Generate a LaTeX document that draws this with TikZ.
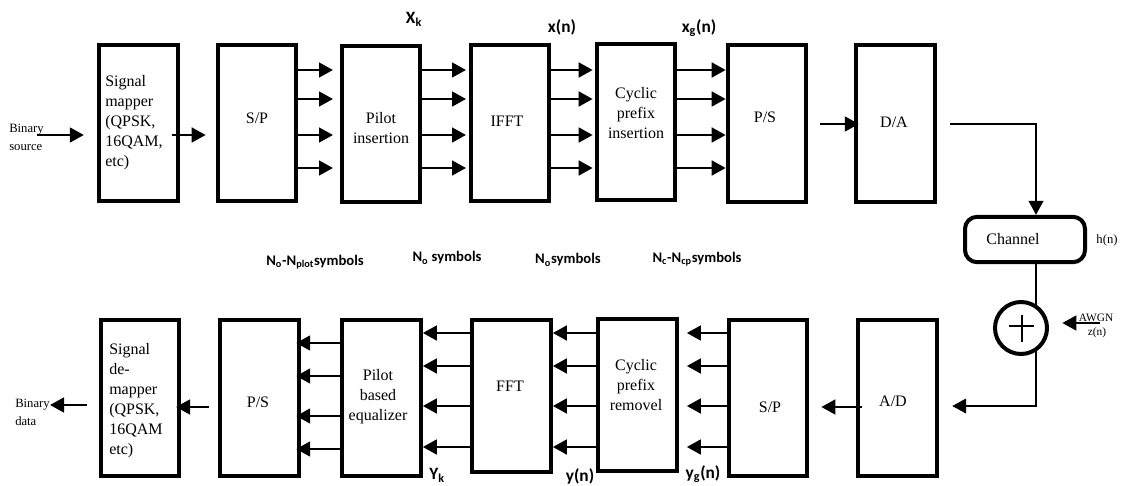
\documentclass[tikz,border=0pt]{standalone}
\usepackage{fontspec}
\setmainfont{Liberation Serif}
\newfontfamily\lblfont{Carlito}
\usetikzlibrary{arrows.meta}
\begin{document}
\begin{tikzpicture}[x=0.75pt,y=-0.75pt,
  blk/.style={draw,line width=3pt,minimum width=59pt,minimum height=117pt,inner sep=0pt},
  btxt/.style={font=\fontsize{12}{15}\selectfont,align=center,inner sep=0pt},
  ltxt/.style={font=\fontsize{12}{15}\selectfont,align=left,anchor=west,inner sep=0pt},
  arr/.style={line width=2pt,-{Triangle[length=10.5pt,width=11pt]}},
  arrthin/.style={line width=1.5pt,-{Triangle[length=10.5pt,width=11pt]}},
  thinline/.style={line width=1.5pt},
  lbl/.style={font=\lblfont\fontsize{11}{13}\selectfont\bfseries,inner sep=0pt},
  sig/.style={font=\lblfont\fontsize{13}{15}\selectfont\bfseries,inner sep=0pt},
  note/.style={font=\fontsize{9.5}{13.5}\selectfont,align=left,inner sep=0pt},
  tiny/.style={font=\fontsize{8.5}{10}\selectfont,inner sep=0pt}]
\useasboundingbox (0,0) rectangle (1123,485);

% ---- top row boxes
\node[blk] (sm) at (138.5,123) {};
\node[blk] (spa) at (257,123) {};
\node[blk] (pi) at (381,124) {};
\node[blk] (ifft) at (510,123) {};
\node[blk] (cpi) at (636,122) {};
\node[blk] (psa) at (767,123.5) {};
\node[blk] (da) at (895.5,123.5) {};

\node[ltxt] (smT) at (105,123) {Signal\\mapper\\(QPSK,\\16QAM,\\etc)};
\node[btxt] (spaT) at (257,118) {S/P};
\node[btxt] (piT) at (381,128) {Pilot\\insertion};
\node[btxt] (ifftT) at (507,121) {IFFT};
\node[btxt] (cpiT) at (636,113) {Cyclic\\prefix\\insertion};
\node[btxt] (psaT) at (765,117) {P/S};
\node[btxt] (daT) at (894,122) {D/A};

% ---- bottom row boxes
\node[blk] (sdm) at (140,397.5) {};
\node[blk] (psb) at (259.5,398) {};
\node[blk] (pbe) at (381.5,398) {};
\node[blk,minimum height=114pt] (fft) at (511.5,396) {};
\node[blk,minimum height=114pt] (cpr) at (637.5,395) {};
\node[blk] (spb) at (768,398) {};
\node[blk] (ad) at (897.5,398) {};

\node[ltxt] (sdmT) at (109,401) {Signal\\de-\\mapper\\(QPSK,\\16QAM\\etc)};
\node[btxt] (psbT) at (258,402) {P/S};
\node[btxt] (pbeT) at (378,397) {Pilot\\based\\equalizer};
\node[btxt] (fftT) at (510,386) {FFT};
\node[btxt] (cprT) at (636,385) {Cyclic\\prefix\\removel};
\node[btxt] (spbT) at (770,407) {S/P};
\node[btxt] (adT) at (893,401) {A/D};

% ---- input / output
\node[note,anchor=west] (bsT) at (9,137) {Binary\\source};
\node[note,anchor=west] (bdT) at (15,412) {Binary\\data};
\coordinate (bs) at (37,135);
\coordinate (bd) at (50,405);
\draw[arr,shorten >=10pt] (bs) -- (sm.west |- bs);
\draw[arr,shorten <=-6pt,shorten >=7.5pt] (sm.east |- bs) -- (spa.west |- bs);
\draw[arr,shorten <=9pt] (sdm.west |- bd) -- (bd);

% ---- top parallel arrows
\foreach \y in {70,99,135,168} {
  \draw[arr,shorten >=5pt] (spa.east |- 0,\y) -- (pi.west |- 0,\y);
  \draw[arr,shorten >=2pt] (pi.east |- 0,\y) -- (ifft.west |- 0,\y);
  \draw[arr,shorten >=1.5pt] (ifft.east |- 0,\y) -- (cpi.west |- 0,\y);
  \draw[arr] (cpi.east |- 0,\y) -- (psa.west |- 0,\y);
}
\draw[arr,shorten <=9pt,shorten >=-3.5pt] (psa.east |- 0,124) -- (da.west |- 0,124);

% ---- bottom parallel arrows
\foreach \y in {343,376,416,449} {
  \draw[arr,shorten >=-3.5pt] (pbe.west |- 0,\y) -- (psb.east |- 0,\y);
}
\foreach \y in {333,366,406,447} {
  \draw[arr] (fft.west |- 0,\y) -- (pbe.east |- 0,\y);
  \draw[arr] (cpr.west |- 0,\y) -- (fft.east |- 0,\y);
  \draw[arr,shorten >=6pt] (spb.west |- 0,\y) -- (cpr.east |- 0,\y);
}
\draw[arr,shorten <=-4pt,shorten >=9pt] (ad.west |- 0,407) -- (spb.east |- 0,407);
\draw[arr,shorten <=7pt,shorten >=-4pt] (psb.west |- 0,407) -- (sdm.east |- 0,407);

% ---- channel and noise
\node[draw,line width=3pt,rounded corners=9pt,minimum width=90pt,minimum height=34pt] (ch) at (1025,239.5) {};
\node[btxt] (chT) at (1013,239) {Channel};
\node[note] (hn) at (1107,240) {h(n)};
\node[circle,draw,line width=3pt,minimum size=39pt,inner sep=0pt] (sum) at (1021,328) {};
\draw[line width=1.5pt] (1009,326) -- (1034,326) (1022,315) -- (1022,342);
\coordinate (tap) at (1036,0);
\coordinate (sumtop) at (1036,306);
\coordinate (sumbot) at (1036,350);
\draw[arrthin] ([xshift=10pt]da.east) -| (ch.north -| tap);
\draw[thinline] (ch.south -| tap) -- (sumtop);
\draw[arrthin] (sumbot) |- ([xshift=10pt,yshift=-6pt]ad.east);
\coordinate (aw) at (1100,323);
\coordinate (awend) at ([xshift=10pt]sum.east);
\draw[arr] (aw) -- (awend |- aw);
\node[tiny] (awT) at (1096,318) {AWGN};
\node[tiny] (znT) at (1097,333) {z(n)};

% ---- signal labels
\node[sig] (xk) at (414,19) {X\textsubscript{k}};
\node[sig] (xn) at (562,27) {x(n)};
\node[sig] (xgn) at (699,28) {x\textsubscript{g}(n)};
\node[lbl] (l1) at (315,262) {N\textsubscript{o}-N\textsubscript{plot}symbols};
\node[lbl] (l2) at (447,258) {N\textsubscript{o} symbols};
\node[lbl] (l3) at (568,260) {N\textsubscript{o}symbols};
\node[lbl] (l4) at (697,259) {N\textsubscript{c}-N\textsubscript{cp}symbols};
\node[sig] (yk) at (437,475) {Y\textsubscript{k}};
\node[sig] (yn) at (580,476) {y(n)};
\node[sig] (ygn) at (703,474) {y\textsubscript{g}(n)};
\end{tikzpicture}
\end{document}
